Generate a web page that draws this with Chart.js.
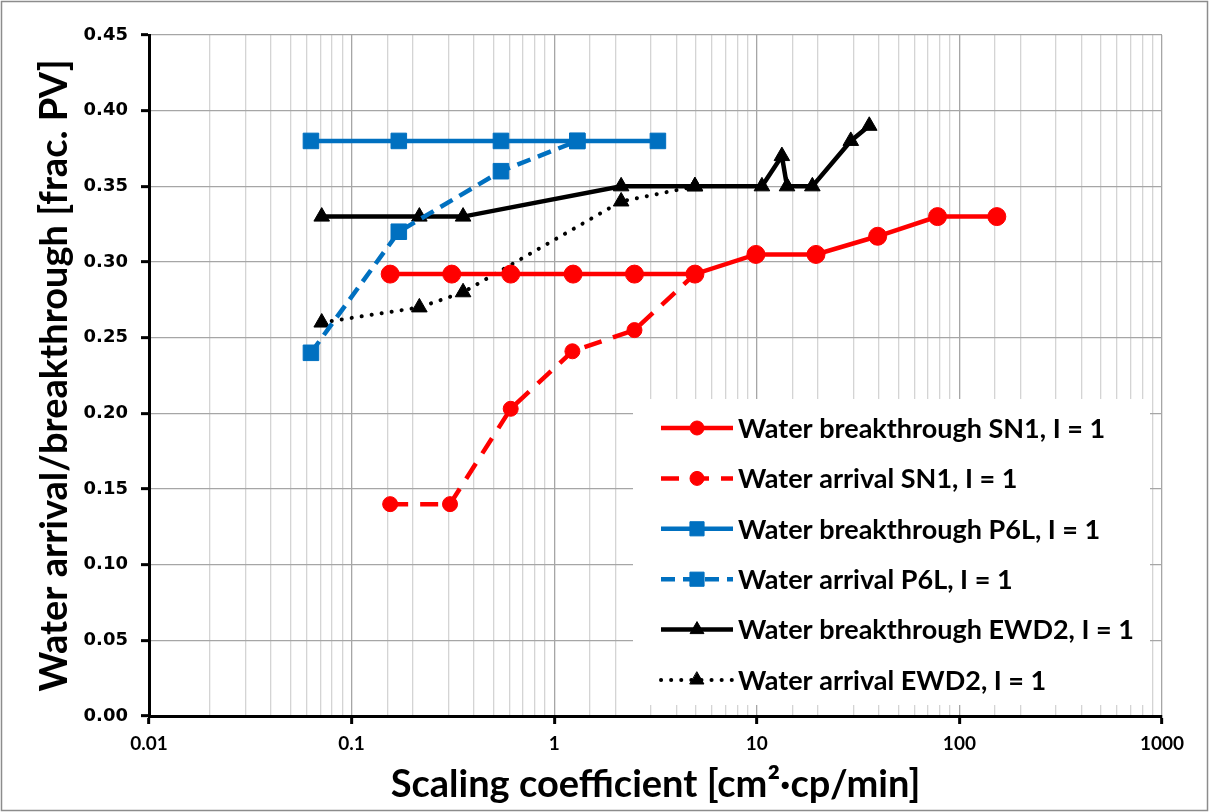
<!DOCTYPE html>
<html>
<head>
<meta charset="utf-8">
<script src="https://cdn.jsdelivr.net/npm/chart.js@4.4.1/dist/chart.umd.min.js"></script>
<style>
  html, body { margin: 0; padding: 0; background: #fff; }
  #wrap { width: 1209px; height: 812px; position: relative; }
</style>
</head>
<body>
<div id="wrap"><canvas id="c" width="1209" height="812"></canvas></div>
<script>
// ---- Data ----
const xTickLabels = ['0.01', '0.1', '1', '10', '100', '1000'];

const sn1BreakX = [0.155, 0.312, 0.61, 1.24, 2.49, 4.95, 9.9, 19.6, 39.5, 78, 153];
const sn1BreakY = [0.292, 0.292, 0.292, 0.292, 0.292, 0.292, 0.305, 0.305, 0.317, 0.330, 0.330];

const sn1ArrX = [0.155, 0.306, 0.61, 1.23, 2.49, 4.95];
const sn1ArrY = [0.140, 0.140, 0.203, 0.241, 0.255, 0.292];

const p6lBreakX = [0.063, 0.171, 0.546, 1.30, 3.25];
const p6lBreakY = [0.38, 0.38, 0.38, 0.38, 0.38];

const p6lArrX = [0.063, 0.171, 0.546, 1.30];
const p6lArrY = [0.24, 0.32, 0.36, 0.38];

const ewdBreakX = [0.0712, 0.216, 0.355, 2.14, 4.95, 10.6, 13.3, 14.1, 18.8, 29.1, 35.9];
const ewdBreakY = [0.33, 0.33, 0.33, 0.35, 0.35, 0.35, 0.37, 0.35, 0.35, 0.38, 0.39];

const ewdArrX = [0.0712, 0.216, 0.355, 2.14, 4.95];
const ewdArrY = [0.26, 0.27, 0.28, 0.34, 0.35];

const seriesLabels = [
  'Water breakthrough SN1, I = 1',
  'Water arrival SN1, I = 1',
  'Water breakthrough P6L, I = 1',
  'Water arrival P6L, I = 1',
  'Water breakthrough EWD2, I = 1',
  'Water arrival EWD2, I = 1'
];

function pts(xs, ys) { return xs.map((x, i) => ({ x: x, y: ys[i] })); }

const RED = '#ff0000', BLUE = '#0070c0', BLACK = '#000000';

const datasets = [
  { label: seriesLabels[0], data: pts(sn1BreakX, sn1BreakY), borderColor: RED, backgroundColor: RED,
    borderWidth: 4.5, pointStyle: 'circle', pointRadius: 9, borderDash: [] },
  { label: seriesLabels[1], data: pts(sn1ArrX, sn1ArrY), borderColor: RED, backgroundColor: RED,
    borderWidth: 4.5, pointStyle: 'circle', pointRadius: 7.5, borderDash: [18, 12] },
  { label: seriesLabels[2], data: pts(p6lBreakX, p6lBreakY), borderColor: BLUE, backgroundColor: BLUE,
    borderWidth: 4.5, pointStyle: 'rect', pointRadius: 11, borderDash: [] },
  { label: seriesLabels[3], data: pts(p6lArrX, p6lArrY), borderColor: BLUE, backgroundColor: BLUE,
    borderWidth: 4.5, pointStyle: 'rect', pointRadius: 11, borderDash: [14, 8] },
  { label: seriesLabels[4], data: pts(ewdBreakX, ewdBreakY), borderColor: BLACK, backgroundColor: BLACK,
    borderWidth: 4.5, pointStyle: 'triangle', pointRadius: 9, borderDash: [] },
  { label: seriesLabels[5], data: pts(ewdArrX, ewdArrY), borderColor: BLACK, backgroundColor: BLACK,
    borderWidth: 4, pointStyle: 'triangle', pointRadius: 9, borderDash: [0.1, 10], borderCapStyle: 'round' }
];
datasets.forEach(d => {
  d.showLine = true;
  d.pointBorderWidth = 1;
  d.pointBorderColor = d.borderColor;
  d.pointBackgroundColor = d.backgroundColor;
  d.pointHoverRadius = d.pointRadius;
  if (!d.borderCapStyle) d.borderCapStyle = 'butt';
});

function isDecade(v) {
  const l = Math.log10(v);
  return Math.abs(l - Math.round(l)) < 1e-9;
}

const bgPlugin = {
  id: 'bg',
  beforeDraw(chart) {
    const ctx = chart.ctx;
    ctx.save();
    ctx.fillStyle = '#ffffff';
    ctx.fillRect(0, 0, chart.width, chart.height);
    ctx.strokeStyle = '#8c8c8c';
    ctx.lineWidth = 1.5;
    ctx.strokeRect(1.5, 1.5, chart.width - 3, chart.height - 3);
    ctx.restore();
  }
};

const legendPlugin = {
  id: 'insideLegend',
  afterDatasetsDraw(chart) {
    const ctx = chart.ctx;
    ctx.save();
    ctx.fillStyle = '#ffffff';
    ctx.fillRect(633, 399, 517, 306);
    const y0 = 428, step = 50.4;
    const x1 = 661, x2 = 733, xm = 697;
    chart.data.datasets.forEach((d, i) => {
      const y = y0 + i * step;
      ctx.save();
      ctx.strokeStyle = d.borderColor;
      ctx.lineWidth = d.borderWidth;
      ctx.lineCap = d.borderCapStyle;
      ctx.setLineDash(d.borderDash || []);
      ctx.beginPath();
      ctx.moveTo(x1, y);
      ctx.lineTo(x2, y);
      ctx.stroke();
      ctx.setLineDash([]);
      ctx.fillStyle = d.backgroundColor;
      ctx.strokeStyle = d.borderColor;
      ctx.lineWidth = 1;
      const r = d.pointStyle === 'rect' ? 10 : (d.pointStyle === 'triangle' ? 8 : 7);
      Chart.helpers.drawPoint(ctx, { pointStyle: d.pointStyle, radius: r, borderWidth: 1 }, xm, y);
      ctx.restore();
      ctx.fillStyle = '#000';
      ctx.font = 'bold 27px Lato';
      ctx.textBaseline = 'middle';
      ctx.textAlign = 'left';
      ctx.fillText(d.label, 738, y + 1);
    });
    ctx.restore();
  }
};

new Chart(document.getElementById('c'), {
  type: 'scatter',
  data: { datasets: datasets },
  plugins: [bgPlugin, legendPlugin],
  options: {
    responsive: false,
    animation: false,
    layout: { padding: { left: 0, right: 47, top: 35, bottom: 0 } },
    plugins: { legend: { display: false }, tooltip: { enabled: false } },
    scales: {
      x: {
        type: 'logarithmic',
        min: 0.01, max: 1000,
        afterFit(scale) { scale.height = 96; },
        border: { color: '#000', width: 3 },
        grid: {
          color: ctx => (ctx.tick && isDecade(ctx.tick.value)) ? '#a6a6a6' : '#d4d4d4',
          lineWidth: 1.3,
          tickLength: 8,
          tickColor: ctx => (ctx.tick && isDecade(ctx.tick.value)) ? '#000' : 'rgba(0,0,0,0)',
          tickWidth: 3
        },
        ticks: {
          autoSkip: false, maxRotation: 0, padding: 8,
          color: '#000',
          font: { family: 'Lato', weight: 'bold', size: 19 },
          callback(v) {
            if (!isDecade(v)) return '';
            const e = Math.round(Math.log10(v));
            return xTickLabels[e + 2];
          }
        },
        title: {
          display: true,
          text: 'Scaling coefficient [cm²·cp/min]',
          color: '#000',
          font: { family: 'Lato', weight: 'bold', size: 38 },
          padding: { top: 0, bottom: 4 }
        }
      },
      y: {
        min: 0, max: 0.45,
        afterFit(scale) { scale.width = 149; },
        border: { color: '#000', width: 3 },
        grid: {
          color: '#a6a6a6',
          lineWidth: 1.3,
          tickLength: 8,
          tickColor: '#000',
          tickWidth: 3
        },
        ticks: {
          stepSize: 0.05, padding: 13,
          color: '#000',
          font: { family: 'DejaVu Sans', weight: 'bold', size: 18 },
          callback(v) { return Number(v).toFixed(2); }
        },
        title: {
          display: true,
          text: 'Water arrival/breakthrough [frac. PV]',
          color: '#000',
          font: { family: 'Lato', weight: 'bold', size: 38 },
          padding: { top: 32, bottom: 0 }
        }
      }
    }
  }
});
</script>
</body>
</html>
